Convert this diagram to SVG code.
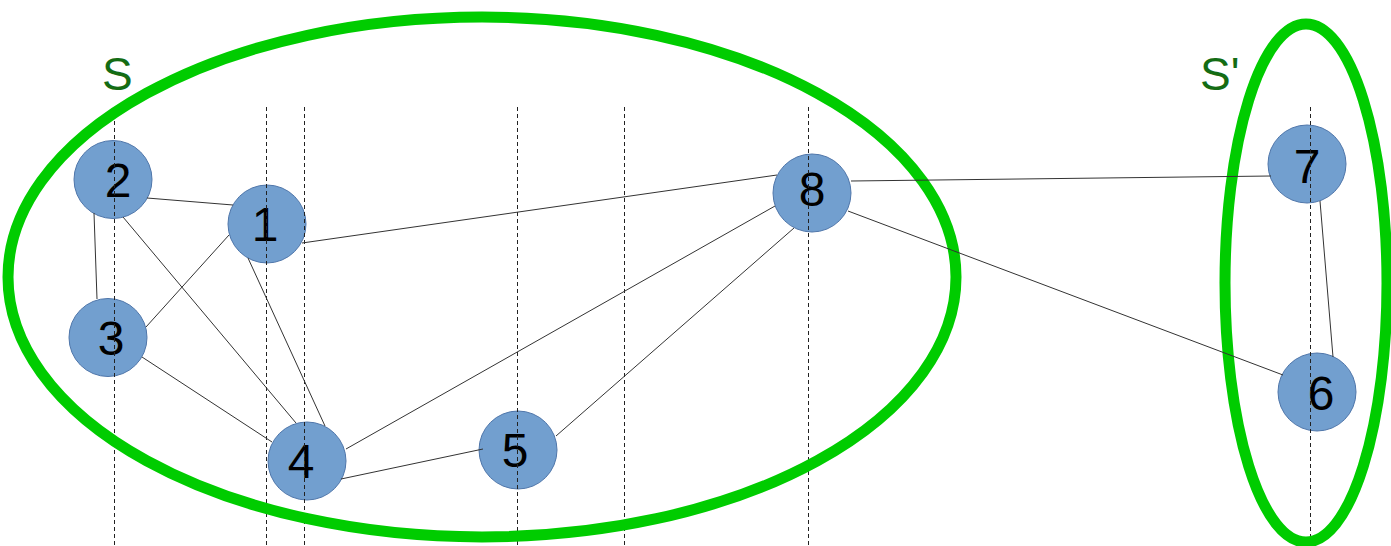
<svg xmlns="http://www.w3.org/2000/svg" width="1391" height="546" viewBox="0 0 1391 546">
<style>
.node circle{fill:#729fcf;stroke:#4f76aa;stroke-width:1}
.node text{font-family:"Liberation Sans",Arial,sans-serif;font-size:48px;fill:#000;text-anchor:middle}
.grid line{stroke:#222;stroke-width:1;stroke-dasharray:4 3}
.set{fill:none;stroke:#00cc00;stroke-width:11}
.lbl{font-family:"Liberation Sans",Arial,sans-serif;font-size:46px;fill:#146c14}
#edges line{stroke:#333;stroke-width:1}
</style>
<rect width="1391" height="546" fill="#fff"/>
<g id="node2" class="node"><circle cx="113" cy="179.5" r="39"/><text x="118" y="197">2</text></g>
<g id="node1" class="node"><circle cx="267" cy="224" r="39"/><text x="265" y="241">1</text></g>
<g id="node3" class="node"><circle cx="108" cy="337.5" r="39"/><text x="111" y="355">3</text></g>
<g id="node4" class="node"><circle cx="307" cy="461" r="39"/><text x="301" y="478">4</text></g>
<g id="node5" class="node"><circle cx="518" cy="450" r="39"/><text x="515" y="467">5</text></g>
<g id="node8" class="node"><circle cx="812" cy="193" r="39"/><text x="812" y="206">8</text></g>
<g id="node7" class="node"><circle cx="1307" cy="164" r="39"/><text x="1307" y="183">7</text></g>
<g id="node6" class="node"><circle cx="1317" cy="392" r="39"/><text x="1321" y="410">6</text></g>
<g class="grid">
<line x1="114.5" y1="107" x2="114.5" y2="546"/>
<line x1="266.5" y1="107" x2="266.5" y2="546"/>
<line x1="304.5" y1="107" x2="304.5" y2="546"/>
<line x1="517.5" y1="107" x2="517.5" y2="546"/>
<line x1="624.5" y1="107" x2="624.5" y2="546"/>
<line x1="808.5" y1="107" x2="808.5" y2="546"/>
<line x1="1310.5" y1="107" x2="1310.5" y2="546"/>
</g>
<g id="setS"><ellipse class="set" cx="482" cy="277" rx="474" ry="260"/><text class="lbl" x="102" y="90">S</text></g>
<g id="setSprime"><ellipse class="set" cx="1306" cy="283" rx="81" ry="259"/><text class="lbl" x="1200" y="90">S'</text></g>
<g id="edges">
<line x1="147" y1="198" x2="233" y2="205"/>
<line x1="94" y1="213" x2="97" y2="299"/>
<line x1="123" y1="217" x2="296" y2="423"/>
<line x1="146" y1="327" x2="229" y2="235"/>
<line x1="142" y1="357" x2="272" y2="442"/>
<line x1="248" y1="258" x2="325" y2="426"/>
<line x1="302" y1="243" x2="777" y2="175"/>
<line x1="346" y1="449" x2="775" y2="206"/>
<line x1="341" y1="479" x2="483" y2="449"/>
<line x1="556" y1="436" x2="794" y2="228"/>
<line x1="851" y1="181" x2="1271" y2="176"/>
<line x1="848" y1="211" x2="1283" y2="375"/>
<line x1="1320" y1="201" x2="1333" y2="357"/>
</g>
</svg>
